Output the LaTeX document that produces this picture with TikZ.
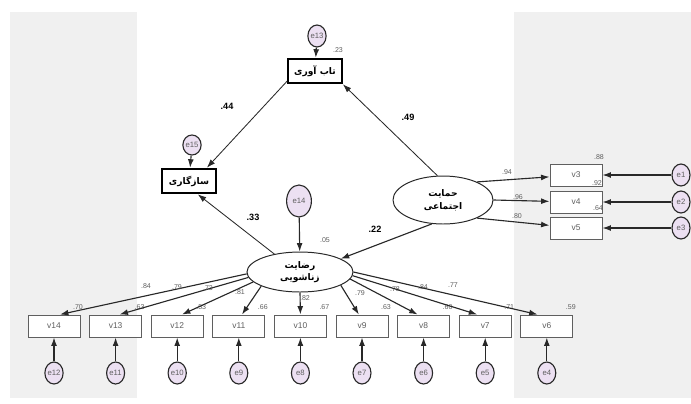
\documentclass[tikz,border=0pt]{standalone}
\usepackage{fontspec}
\setmainfont{Liberation Sans}
\newfontfamily\fafont[Script=Arabic]{DejaVu Sans}
\TeXXeTstate=1
\usetikzlibrary{positioning, arrows.meta, shapes.geometric, calc}
\definecolor{ink}{RGB}{40,40,40}
\definecolor{slate}{RGB}{95,95,95}
\definecolor{panel}{RGB}{240,240,240}
\definecolor{lilac}{RGB}{236,224,242}

\begin{document}
\begin{tikzpicture}[
    obs/.style={draw=slate, fill=white, line width=0.7pt, minimum width=1.3cm, minimum height=0.55cm,
                inner sep=0pt, font=\fontsize{6}{7}\selectfont, text=slate},
    fa/.style={font=\fafont\bfseries\fontsize{6.5}{9}\selectfont, text=black, align=center},
    mid/.style={obs, fa, draw=black, line width=1.3pt, minimum width=1.35cm, minimum height=0.62cm},
    lat/.style={ellipse, draw=ink, fill=white, line width=0.7pt, fa, inner sep=0pt},
    err/.style={ellipse, draw=ink, fill=lilac, line width=0.8pt, inner sep=0pt, minimum width=0.45cm,
                minimum height=0.55cm, font=\fontsize{5.5}{6}\selectfont, text=slate},
    num/.style={font=\fontsize{5}{6}\selectfont, text=slate, inner sep=0pt},
    coef/.style={font=\bfseries\fontsize{6.5}{7}\selectfont, text=black, inner sep=0pt},
    link/.style={-{Latex[length=6pt,width=4.2pt]}, draw=ink, line width=0.8pt}
  ]
  \def\row{-8.15} \def\erow{-9.325}
  \useasboundingbox (0,0) rectangle (17.275,-10.075);
  \fill[panel] (0.25,-0.3) rectangle (17.275,-9.95);
  \fill[white] (3.425,-0.3) rectangle (12.85,-9.95);

  \node[mid] (tab) at (7.875,-1.775) {\beginR تاب آوری\endR};
  \node[err, minimum width=0.4cm] (e13) at (7.925,-0.9) {e13};
  \node[mid] (saz) at (4.725,-4.525) {\beginR سازگاری\endR};
  \node[err, minimum width=0.38cm, minimum height=0.5cm] (e15) at (4.8,-3.625) {e15};
  \node[err, minimum width=0.62cm, minimum height=0.8cm] (e14) at (7.475,-5.025) {e14};
  \node[lat, minimum width=2.65cm, minimum height=1.0cm] (sat) at (7.5,-6.8)
    {\beginR رضایت\endR\\\beginR زناشویی\endR};
  \node[lat, minimum width=2.5cm, minimum height=1.2cm] (sup) at (11.075,-5.0)
    {\beginR حمایت\endR\\\beginR اجتماعی\endR};

  \draw[link] (e13) -- (tab);
  \draw[link] (e15) -- (saz);
  \draw[link] (e14) -- (sat);
  \draw[link, line width=0.6pt] (tab.200) -- ([xshift=-0.25cm]saz.north east);
  \draw[link, line width=0.6pt] (sup.103) -- (tab.south east);
  \draw[link, line width=0.6pt] (sat.145) -- ([xshift=0.22cm]saz.south);
  \draw[link] (sup.245) -- (sat.18);

  \node[num] at (8.45,-1.25) {.23};
  \node[coef] at (5.675,-2.65) {.44};
  \node[coef] at (10.2,-2.925) {.49};
  \node[coef] at (6.325,-5.425) {.33};
  \node[coef] at (9.375,-5.725) {.22};
  \node[num] at (8.125,-6.0) {.05};

  \foreach \v/\e/\y in {3/1/-4.375, 4/2/-5.05, 5/3/-5.7} {
    \node[obs] (v\v) at (14.4,\y) {v\v};
    \node[err] (e\e) at (17.025,\y) {e\e};
    \draw[link] (e\e) -- (v\v);
  }
  \draw[link] (sup.28) -- (v3);
  \draw[link] (sup.0) -- (v4);
  \draw[link] (sup.-28) -- (v5);
  \node[num] at (12.675,-4.3) {.94};
  \node[num] at (12.95,-4.925) {.96};
  \node[num] at (12.925,-5.4) {.80};
  \node[num] at (14.975,-3.925) {.88};
  \node[num] at (14.925,-4.575) {.92};
  \node[num] at (14.95,-5.2) {.64};

  \foreach \v/\e/\x/\rsq in {14/12/1.35/.70, 13/11/2.89/.63, 12/10/4.43/.53,
      11/9/5.97/.66, 10/8/7.51/.67, 9/7/9.05/.63, 8/6/10.59/.60, 7/5/12.13/.71, 6/4/13.67/.59} {
    \node[obs] (v\v) at (\x,\row) {v\v};
    \node[err] (e\e) at (\x,\erow) {e\e};
    \draw[link] (e\e) -- (v\v);
    \node[num] at (\x+0.6,\row+0.475) {\rsq};
  }
  \foreach \v/\a/\dx/\lx/\ly/\ld in {14/182/0.15/3.65/-7.15/.84, 13/186/0.1/4.425/-7.175/.79,
      12/192/0.12/5.2/-7.2/.73, 11/200/0.08/6.0/-7.3/.81, 10/270/0/7.625/-7.45/.82,
      9/-18/-0.08/9.0/-7.325/.79, 8/-8/-0.15/9.875/-7.225/.78, 7/-4/-0.2/10.575/-7.175/.84,
      6/0/-0.23/11.325/-7.125/.77} {
    \draw[link] (sat.\a) -- ([xshift=\dx cm]v\v.north);
    \node[num] at (\lx,\ly) {\ld};
  }
\end{tikzpicture}
\end{document}
